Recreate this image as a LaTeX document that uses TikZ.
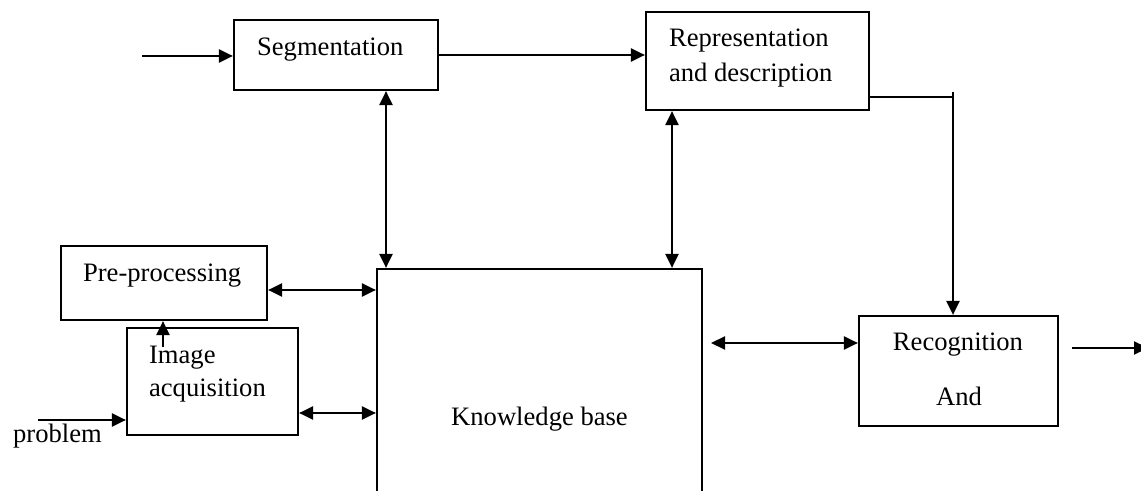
\documentclass[tikz,border=0pt]{standalone}
\usepackage{fontspec}
\setmainfont{Liberation Serif}
\usetikzlibrary{arrows.meta}
\begin{document}
\begin{tikzpicture}[x=0.5pt,y=-0.5pt,line width=1.1pt,
  box/.style={draw,rectangle,inner sep=0pt},
  txt/.style={inner sep=0pt,anchor=base west,font=\fontsize{13.3}{16}\selectfont},
  ctxt/.style={inner sep=0pt,anchor=base,font=\fontsize{13.3}{16}\selectfont},
  arr/.style={-{Triangle[length=7pt,width=6.5pt]}},
  darr/.style={{Triangle[length=7pt,width=6.5pt]}-{Triangle[length=7pt,width=6.5pt]}}]
\useasboundingbox (0,0) rectangle (1141,491);
% boxes
\node[box,minimum width=102pt,minimum height=35pt] (seg) at (336,55) {};
\node[box,minimum width=111.5pt,minimum height=49pt] (rep) at (757.5,61) {};
\node[box,minimum width=103pt,minimum height=37pt] (pre) at (164,283) {};
\node[box,minimum width=85.5pt,minimum height=53.5pt] (img) at (212.5,381.5) {};
\node[box,minimum width=99.5pt,minimum height=55pt] (rec) at (958.5,371) {};
\node[box,minimum width=162.5pt,minimum height=145.5pt] (kb) at (539.5,414.5) {};
% texts
\node[txt] (tseg) at (256,56) {Segmentation};
\node[txt] (trep1) at (668,47) {Representation};
\node[txt] (trep2) at (668,82) {and description};
\node[txt] (tpre) at (82,282) {Pre-processing};
\node[txt] (timg1) at (148,364) {Image};
\node[txt] (timg2) at (148,397) {acquisition};
\node[txt] (tprob) at (12,443) {problem};
\node[ctxt] (trec1) at (958,351) {Recognition};
\node[ctxt] (trec2) at (959,406) {And};
\node[ctxt] (tkb) at (539.5,426) {Knowledge base};
% helper coordinates
\coordinate (in1) at (142,56);
\coordinate (c0) at (953,92);
\coordinate (c1) at (953,97);
\coordinate (xa) at (386,0);
\coordinate (xb) at (672,0);
\coordinate (ya) at (0,290);
\coordinate (yb) at (0,413);
\coordinate (ia) at (163,347);
\coordinate (kr) at (711,343);
\coordinate (o1) at (1072,348);
\coordinate (o2) at (1148,348);
\coordinate (p1) at (38,420);
% connectors
\draw[arr] (in1) -- (in1 -| seg.west);
\draw[arr] (seg.east) -- (seg.east -| rep.west);
\draw (rep.east |- c1) -- (c1);
\draw[arr] (c0) -- (c0 |- rec.north);
\draw[darr] (seg.south -| xa) -- (kb.north -| xa);
\draw[darr] (rep.south -| xb) -- (kb.north -| xb);
\draw[darr] (pre.east |- ya) -- (kb.west |- ya);
\draw[darr] (img.east |- yb) -- (kb.west |- yb);
\draw[arr] (ia) -- (pre.south -| ia);
\draw[darr] (kr) -- (rec.west |- kr);
\draw[arr] (o1) -- (o2);
\draw[arr] (p1) -- (p1 -| img.west);
\end{tikzpicture}
\end{document}
